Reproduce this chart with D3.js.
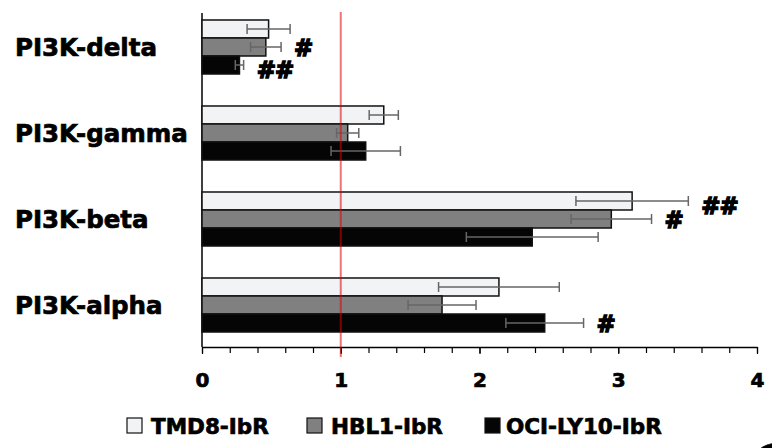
<!DOCTYPE html>
<html>
<head>
<meta charset="utf-8">
<style>
    body { margin: 0; background: #fff; }
    svg { display: block; }
    text { font-family: "DejaVu Sans", sans-serif; font-weight: bold; fill: #000; stroke: #000; stroke-width: 0.7px; }
    .x .domain { stroke: #000; stroke-width: 1.5px; }
    .x .tick line { stroke: #000; stroke-width: 1.2px; }
</style>
</head>
<body>
<svg width="772" height="448"></svg>

<script src="https://d3js.org/d3.v7.min.js"></script>
<script>
    // data
    let categories = ["PI3K-delta", "PI3K-gamma", "PI3K-beta", "PI3K-alpha"];
    let series = ["TMD8-IbR", "HBL1-IbR", "OCI-LY10-IbR"];
    let tmd8 = [0.48, 1.31, 3.10, 2.14];
    let hbl1 = [0.46, 1.05, 2.95, 1.73];
    let ocily10 = [0.27, 1.18, 2.38, 2.47];
    let tmd8Err = [0.155, 0.105, 0.405, 0.435];
    let hbl1Err = [0.11, 0.08, 0.29, 0.245];
    let ocily10Err = [0.03, 0.25, 0.475, 0.28];
    let xTicks = [0, 1, 2, 3, 4];
    let signif = [
        { cat: "PI3K-delta", ser: "HBL1-IbR", label: "#" },
        { cat: "PI3K-delta", ser: "OCI-LY10-IbR", label: "##" },
        { cat: "PI3K-beta", ser: "TMD8-IbR", label: "##" },
        { cat: "PI3K-beta", ser: "HBL1-IbR", label: "#" },
        { cat: "PI3K-alpha", ser: "OCI-LY10-IbR", label: "#" }
    ];

    let values = [tmd8, hbl1, ocily10];
    let errs = [tmd8Err, hbl1Err, ocily10Err];
    let fills = { "TMD8-IbR": "#f2f3f5", "HBL1-IbR": "#808080", "OCI-LY10-IbR": "#050505" };

    let rows = [];
    categories.forEach(function (c, i) {
        series.forEach(function (s, j) {
            rows.push({ cat: c, ser: s, value: values[j][i], err: errs[j][i] });
        });
    });

    let svg = d3.select("svg");
    let axisY = 347;

    let x = d3.scaleLinear().domain([0, 4]).range([202, 757]);

    let y = d3.scaleBand()
        .domain(categories)
        .range([4, 348])
        .paddingInner(0.372)
        .paddingOuter(0.186);

    let ySub = d3.scaleBand()
        .domain(series)
        .range([0, y.bandwidth()]);

    // minor ticks
    svg.append("g")
        .attr("class", "x")
        .attr("transform", `translate(0, ${axisY})`)
        .call(d3.axisBottom(x).tickValues(d3.range(0, 4.01, 0.2)).tickSize(6).tickFormat(""))
        .select(".domain").remove();

    let xAxis = svg.append("g")
        .attr("class", "x")
        .attr("transform", `translate(0, ${axisY})`)
        .call(d3.axisBottom(x).tickValues(xTicks).tickSize(7).tickSizeOuter(0).tickPadding(19).tickFormat(d3.format("d")));
    xAxis.selectAll("text")
        .style("font-size", "20px")
        .style("font-family", "DejaVu Sans")
        .style("font-weight", "bold")
        .attr("fill", "#000");

    // y axis line
    svg.append("line")
        .attr("x1", x(0)).attr("x2", x(0))
        .attr("y1", 13).attr("y2", axisY)
        .style("stroke", "#000")
        .style("stroke-width", "1.5px");

    // bars
    svg.append("g")
        .selectAll("rect")
        .data(rows)
        .join("rect")
        .attr("x", x(0))
        .attr("y", d => y(d.cat) + ySub(d.ser))
        .attr("width", d => x(d.value) - x(0))
        .attr("height", ySub.bandwidth())
        .style("fill", d => fills[d.ser])
        .style("stroke", "#111")
        .style("stroke-width", "1.5px");

    // error bars
    let eb = svg.append("g")
        .selectAll("g")
        .data(rows)
        .join("g")
        .style("stroke", "#666")
        .style("stroke-width", "1.5px");
    eb.append("line")
        .attr("x1", d => x(d.value - d.err))
        .attr("x2", d => x(d.value + d.err))
        .attr("y1", d => y(d.cat) + ySub(d.ser) + ySub.bandwidth() / 2)
        .attr("y2", d => y(d.cat) + ySub(d.ser) + ySub.bandwidth() / 2);
    eb.selectAll(".cap")
        .data(d => [d.value - d.err, d.value + d.err].map(v => ({ v: v, cy: y(d.cat) + ySub(d.ser) + ySub.bandwidth() / 2 })))
        .join("line")
        .attr("class", "cap")
        .attr("x1", d => x(d.v)).attr("x2", d => x(d.v))
        .attr("y1", d => d.cy - 5).attr("y2", d => d.cy + 5);

    // reference line at 1
    svg.append("line")
        .attr("x1", x(1)).attr("x2", x(1))
        .attr("y1", 12).attr("y2", 357)
        .style("stroke", "#e00000")
        .style("stroke-opacity", 0.55)
        .style("stroke-width", "2px");

    // significance marks
    let rowOf = (c, s) => rows.find(r => r.cat == c && r.ser == s);
    svg.append("g")
        .selectAll("text")
        .data(signif)
        .join("text")
        .attr("x", d => { let r = rowOf(d.cat, d.ser); return x(r.value + r.err) + 13; })
        .attr("y", d => y(d.cat) + ySub(d.ser) + ySub.bandwidth() / 2)
        .attr("dy", d => d.label == "##" ? "0.55em" : "0.4em")
        .style("font-size", "23px")
        .style("stroke-width", "1.4px")
        .style("letter-spacing", "-1px")
        .text(d => d.label);

    // category labels
    svg.append("g")
        .selectAll("text")
        .data(categories)
        .join("text")
        .attr("x", 15)
        .attr("y", d => y(d) + y.bandwidth() / 2)
        .attr("dy", "0.36em")
        .style("font-size", "24.5px")
        .text(d => d);

    // legend
    let legX = { "TMD8-IbR": 127, "HBL1-IbR": 307, "OCI-LY10-IbR": 485 };
    let leg = svg.append("g")
        .selectAll("g")
        .data(series)
        .join("g")
        .attr("transform", d => `translate(${legX[d]}, 418)`);
    leg.append("rect")
        .attr("width", 15).attr("height", 15)
        .style("fill", d => fills[d])
        .style("stroke", "#111")
        .style("stroke-width", "1.2px");
    leg.append("text")
        .attr("x", d => d == "OCI-LY10-IbR" ? 21 : 24)
        .attr("y", 15.5)
        .style("font-size", "21.5px")
        .text(d => d);

    // cut-off panel letter
    svg.append("text")
        .attr("x", 751)
        .attr("y", 484)
        .style("font-size", "56px")
        .text("C");
</script>
</body>
</html>
